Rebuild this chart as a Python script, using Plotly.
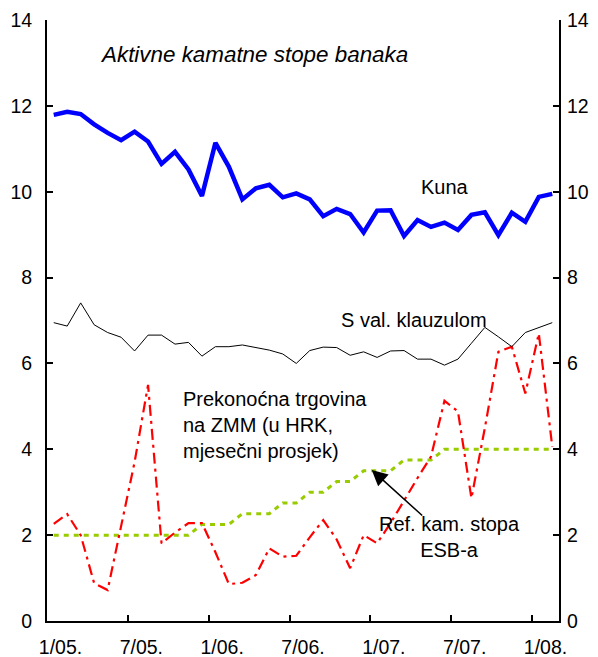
import plotly.graph_objects as go

# ---- data (monthly, 1/2005 .. 2/2008) ----
months = [f"{m}/{y:02d}." for y in (5, 6, 7) for m in range(1, 13)] + ["1/08.", "2/08."]
tick_labels = ["1/05.", "7/05.", "1/06.", "7/06.", "1/07.", "7/07.", "1/08."]

kuna = [11.79, 11.86, 11.81, 11.57, 11.37, 11.20, 11.40, 11.17, 10.65, 10.93, 10.52, 9.90,
        11.14, 10.58, 9.82, 10.08, 10.16, 9.87, 9.96, 9.82, 9.43, 9.60, 9.48, 9.05,
        9.56, 9.57, 8.97, 9.34, 9.18, 9.28, 9.11, 9.46, 9.52, 8.99, 9.51, 9.30, 9.88, 9.95]

val_klauzula = [6.95, 6.87, 7.41, 6.90, 6.72, 6.61, 6.29, 6.66, 6.66, 6.45, 6.49, 6.17,
                6.39, 6.39, 6.43, 6.37, 6.31, 6.22, 6.00, 6.30, 6.38, 6.37, 6.19, 6.27,
                6.14, 6.29, 6.30, 6.10, 6.10, 5.96, 6.10, 6.47, 6.84, 6.62, 6.39, 6.72, 6.83, 6.95]

zmm = [2.26, 2.49, 2.00, 0.88, 0.72, 2.20, 3.70, 5.50, 1.81, 2.06, 2.28, 2.28,
       1.60, 0.86, 0.89, 1.07, 1.69, 1.50, 1.52, 1.95, 2.35, 1.90, 1.23, 2.00,
       1.81, 2.28, 2.82, 3.33, 3.83, 5.13, 4.88, 2.86, 4.50, 6.27, 6.39, 5.30, 6.70, 4.06]

ecb = [2.00, 2.00, 2.00, 2.00, 2.00, 2.00, 2.00, 2.00, 2.00, 2.00, 2.00, 2.25,
       2.25, 2.25, 2.50, 2.50, 2.50, 2.75, 2.75, 3.00, 3.00, 3.25, 3.25, 3.50,
       3.50, 3.50, 3.75, 3.75, 3.75, 4.00, 4.00, 4.00, 4.00, 4.00, 4.00, 4.00, 4.00, 4.00]

idx = list(range(len(months)))
label_pos = [months.index(t) + 0.5 for t in tick_labels]
tick_marks = [months.index(t) - 0.5 for t in tick_labels[1:]]

FONT = "Liberation Sans, Arial, sans-serif"

fig = go.Figure()
fig.add_trace(go.Scatter(x=idx, y=ecb, mode="lines",
                         line=dict(color="#99CC00", width=3, dash="5px,5px"),
                         hoverinfo="skip"))
fig.add_trace(go.Scatter(x=idx, y=zmm, mode="lines",
                         line=dict(color="#FF0000", width=2.2, dash="11px,5px,3px,5px"),
                         hoverinfo="skip"))
fig.add_trace(go.Scatter(x=idx, y=val_klauzula, mode="lines",
                         line=dict(color="#000000", width=1),
                         hoverinfo="skip"))
fig.add_trace(go.Scatter(x=idx, y=kuna, mode="lines",
                         line=dict(color="#0000FF", width=4.5),
                         hoverinfo="skip"))
# invisible helper so the right-hand axis is drawn
fig.add_trace(go.Scatter(x=[idx[0]], y=[kuna[0]], yaxis="y2", mode="markers",
                         marker=dict(opacity=0), hoverinfo="skip"))

axis_common = dict(showgrid=False, zeroline=False, showline=True, linecolor="black",
                   linewidth=2, ticks="inside", ticklen=6, tickwidth=1.5, tickcolor="black",
                   automargin=False,
                   tickfont=dict(family=FONT, size=19.5, color="black"))

# the page body has an 8px default margin, so the figure is sized to fit inside the window
fig.update_layout(
    width=590, height=649,
    margin=dict(l=39, r=39, t=12, b=36, autoexpand=False),
    paper_bgcolor="white", plot_bgcolor="white",
    showlegend=False,
    xaxis=dict(range=[-0.5, len(months) - 0.5], showgrid=False, zeroline=False,
               showline=True, linecolor="black", linewidth=2, automargin=False,
               tickvals=label_pos, ticktext=tick_labels, ticks="",
               ticklabelstandoff=8,
               tickfont=dict(family=FONT, size=19.5, color="black"),
               minor=dict(tickvals=tick_marks, ticks="inside", ticklen=6,
                          tickwidth=1.5, tickcolor="black", showgrid=False)),
    yaxis=dict(range=[0, 14], tickvals=list(range(0, 15, 2)), ticklabelstandoff=9,
               **axis_common),
    yaxis2=dict(range=[0, 14], tickvals=list(range(0, 15, 2)), overlaying="y",
                side="right", ticklabelstandoff=2, **axis_common),
)

def px_x(p):
    return (p - 47) / 512

def px_y(p):
    return (621 - p) / 601

ann_font = dict(family=FONT, size=20, color="black")
fig.add_annotation(text="<i>Aktivne kamatne stope banaka</i>", xref="paper", yref="paper",
                   x=px_x(98), y=px_y(55), xanchor="left", yanchor="middle",
                   showarrow=False, font=dict(family=FONT, size=22.4, color="black"))
fig.add_annotation(text="Kuna", xref="paper", yref="paper", x=px_x(445), y=px_y(187),
                   xanchor="center", yanchor="middle", showarrow=False, font=ann_font)
fig.add_annotation(text="S val. klauzulom", xref="paper", yref="paper", x=px_x(414),
                   y=px_y(320), xanchor="center", yanchor="middle", showarrow=False,
                   font=ann_font)
fig.add_annotation(text="Prekonoćna trgovina<br>na ZMM (u HRK,<br>mjesečni prosjek)",
                   xref="paper", yref="paper", x=px_x(181), y=px_y(425), xanchor="left",
                   yanchor="middle", align="left", showarrow=False, font=ann_font)
fig.add_annotation(text="Ref. kam. stopa<br>ESB-a", xref="paper", yref="paper",
                   x=px_x(449), y=px_y(537), xanchor="center", yanchor="middle",
                   align="center", showarrow=False, font=ann_font)
fig.add_annotation(text="", x=23.6, y=3.52, xref="x", yref="y", ax=52, ay=47,
                   axref="pixel", ayref="pixel", showarrow=True, arrowhead=2,
                   arrowsize=2.1, arrowwidth=1.5, arrowcolor="black")

fig.write_html("out.html")
